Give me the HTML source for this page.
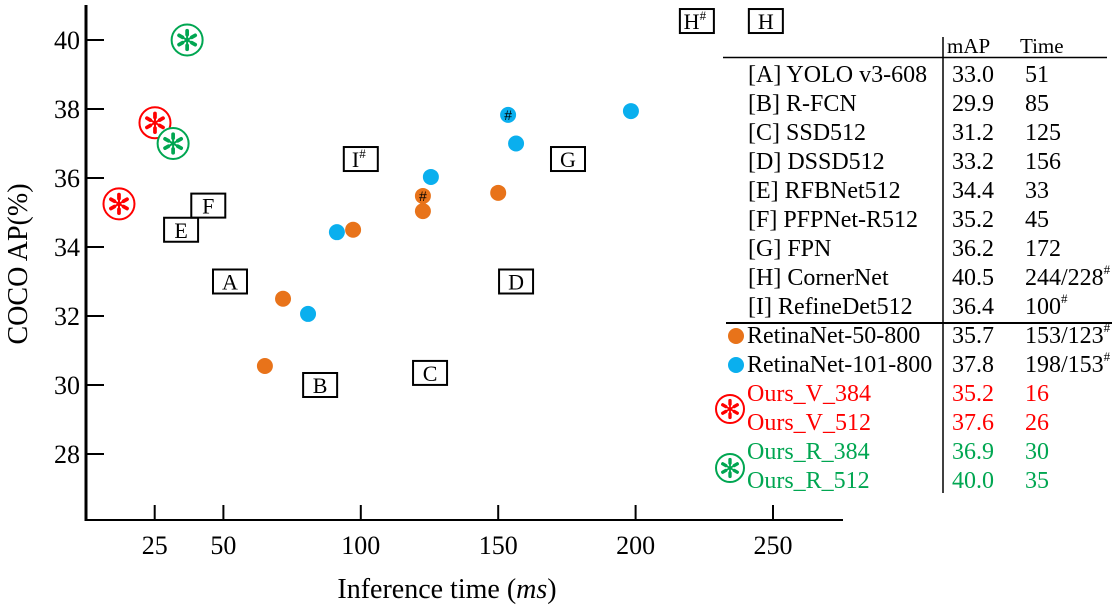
<!DOCTYPE html>
<html><head><meta charset="utf-8"><style>
body{margin:0;background:#fff;}
svg{display:block;font-family:"Liberation Serif",serif;}
</style></head><body>
<svg id="chart" width="1119" height="606" viewBox="0 0 1119 606" xmlns="http://www.w3.org/2000/svg">
<g id="axes"></g>
<g id="marks"></g>
<g id="table"></g>
</svg>
<script>
const xTicks=[25,50,100,150,200,250];
const yTicks=[28,30,32,34,36,38,40];
const orangeT=[65.1,71.7,97.2,122.6,122.6,150];
const orangeV=[30.55,32.5,34.5,35.48,35.04,35.57];
const orangeHash=[false,false,false,true,false,false];
const blueT=[80.8,91.3,125.5,153.6,156.5,198.3];
const blueV=[32.06,34.43,36.03,37.83,37.0,37.94];
const blueHash=[false,false,false,true,false,false];
const oursLabels=["V_384","V_512","R_384","R_512"];
const oursT=[12,25.1,31.7,36.8];
const oursV=[35.25,37.6,37.0,40.0];
const boxLabels=["A","B","C","D","E","F","G","H#","H","I#"];
const boxT=[52.4,85.2,125.2,156.5,34.6,44.5,175.4,222.3,247.4,100];
const boxV=[33.0,30.0,30.35,33.0,34.5,35.2,36.55,40.55,40.55,36.55];
const rowNames=["[A] YOLO v3-608","[B] R-FCN","[C] SSD512","[D] DSSD512","[E] RFBNet512","[F] PFPNet-R512","[G] FPN","[H] CornerNet","[I] RefineDet512","RetinaNet-50-800","RetinaNet-101-800","Ours_V_384","Ours_V_512","Ours_R_384","Ours_R_512"];
const rowMAP=["33.0","29.9","31.2","33.2","34.4","35.2","36.2","40.5","36.4","35.7","37.8","35.2","37.6","36.9","40.0"];
const rowTime=["51","85","125","156","33","45","172","244/228#","100#","153/123#","198/153#","16","26","30","35"];

const NS="http://www.w3.org/2000/svg";
const X=v=>86+v*2.748, Y=v=>40+(40-v)*34.5;
const ORANGE="#e8731a",BLUE="#0aafee",RED="#ff0000",GREEN="#00a651";
function mk(tag,attrs,parent){const e=document.createElementNS(NS,tag);for(const k in attrs)e.setAttribute(k,attrs[k]);parent.appendChild(e);return e;}
const axes=document.getElementById('axes'),marks=document.getElementById('marks'),table=document.getElementById('table');

let a=mk('line',{x1:86,y1:5,x2:86,y2:521,stroke:'#000','stroke-width':3},axes);

a=mk('line',{x1:84.5,y1:520,x2:843,y2:520,stroke:'#000','stroke-width':2},axes);

xTicks.forEach(t=>{
  const l=mk('line',{x1:X(t),y1:520,x2:X(t),y2:505,stroke:'#000','stroke-width':2},axes);
  
  const tx=mk('text',{x:X(t),y:554,'text-anchor':'middle','font-size':26},axes);tx.textContent=t;
  
});
yTicks.forEach(t=>{
  const l=mk('line',{x1:86,y1:Y(t),x2:104,y2:Y(t),stroke:'#000','stroke-width':2},axes);
  
  const tx=mk('text',{x:80,y:Y(t)+9,'text-anchor':'end','font-size':26},axes);tx.textContent=t;
  
});
let xt=mk('text',{x:447,y:598,'text-anchor':'middle','font-size':28},axes);
xt.innerHTML='Inference time (<tspan font-style="italic">ms</tspan>)';

let yt=mk('text',{x:0,y:0,'text-anchor':'middle','font-size':28,transform:'translate(27,264) rotate(-90)'},axes);
yt.textContent='COCO AP(%)';


function star(cx,cy,r,color,parent){
  const g=mk('g',{},parent);
  mk('circle',{cx:cx,cy:cy,r:r,fill:'#fff',stroke:color,'stroke-width':2},g);
  for(let i=0;i<6;i++){const an=Math.PI/2+i*Math.PI/3;
    const c=Math.cos(an),s=-Math.sin(an);
    mk('line',{x1:cx,y1:cy,x2:cx+r*0.55*c,y2:cy+r*0.55*s,stroke:color,'stroke-width':r*0.13,'stroke-linecap':'round'},g);
    mk('line',{x1:cx+r*0.35*c,y1:cy+r*0.35*s,x2:cx+r*0.6*c,y2:cy+r*0.6*s,stroke:color,'stroke-width':r*0.24,'stroke-linecap':'round'},g);}
  return g;
}
function dot(cx,cy,color,hash,parent){
  const g=mk('g',{},parent);
  mk('circle',{cx:cx,cy:cy,r:8,fill:color},g);
  if(hash){const t=mk('text',{x:cx,y:cy+5,'text-anchor':'middle','font-size':14,'font-family':'Liberation Sans,sans-serif'},g);t.textContent='#';}
  return g;
}
boxLabels.forEach((b,i)=>{
  const cx=X(boxT[i]),cy=Y(boxV[i]);
  const g=mk('g',{},marks);
  
  
  mk('rect',{x:cx-17,y:cy-12,width:34,height:24,fill:'#fff',stroke:'#000','stroke-width':2},g);
  const t=mk('text',{x:cx,y:cy+8,'text-anchor':'middle','font-size':22},g);
  if(b.includes('#')){t.innerHTML=b[0]+'<tspan font-size="13" dy="-9">#</tspan>';t.setAttribute('x',cx-2);}
  else t.textContent=b;
});
orangeT.forEach((t,i)=>{const g=dot(X(t),Y(orangeV[i]),ORANGE,orangeHash[i],marks);
  });
blueT.forEach((t,i)=>{const g=dot(X(t),Y(blueV[i]),BLUE,blueHash[i],marks);
  });
oursT.forEach((t,i)=>{const g=star(X(t),Y(oursV[i]),15.5,i<2?RED:GREEN,marks);
  });

// table
let l=mk('line',{x1:943,y1:37,x2:943,y2:493,stroke:'#000','stroke-width':1.5},table);

l=mk('line',{x1:723,y1:57.5,x2:1107,y2:57.5,stroke:'#000','stroke-width':1.5},table);

l=mk('line',{x1:726,y1:323,x2:1112,y2:323,stroke:'#000','stroke-width':2},table);

let h=mk('text',{x:947,y:53,'font-size':21},table);h.textContent='mAP';

h=mk('text',{x:1020,y:53,'font-size':21},table);h.textContent='Time';

rowNames.forEach((n,i)=>{
  const by=82+i*29;
  const col=i>=13?GREEN:(i>=11?RED:'#000');
  const t1=mk('text',{x:i>=9?747:748,y:by,'font-size':24,fill:col},table);t1.textContent=n;
  
  const t2=mk('text',{x:952,y:by,'font-size':24,fill:col},table);t2.textContent=rowMAP[i];
  
  const t3=mk('text',{x:1025,y:by,'font-size':24,fill:col},table);
  const tv=rowTime[i];
  if(tv.endsWith('#'))t3.innerHTML=tv.slice(0,-1)+'<tspan font-size="13" dy="-11">#</tspan>';else t3.textContent=tv;
  
});
let lg=dot(736,336,ORANGE,false,table);
lg=dot(736,365,BLUE,false,table);
lg=star(730,409,14,RED,table);
lg=star(730,468,14,GREEN,table);
</script>
</body></html>
